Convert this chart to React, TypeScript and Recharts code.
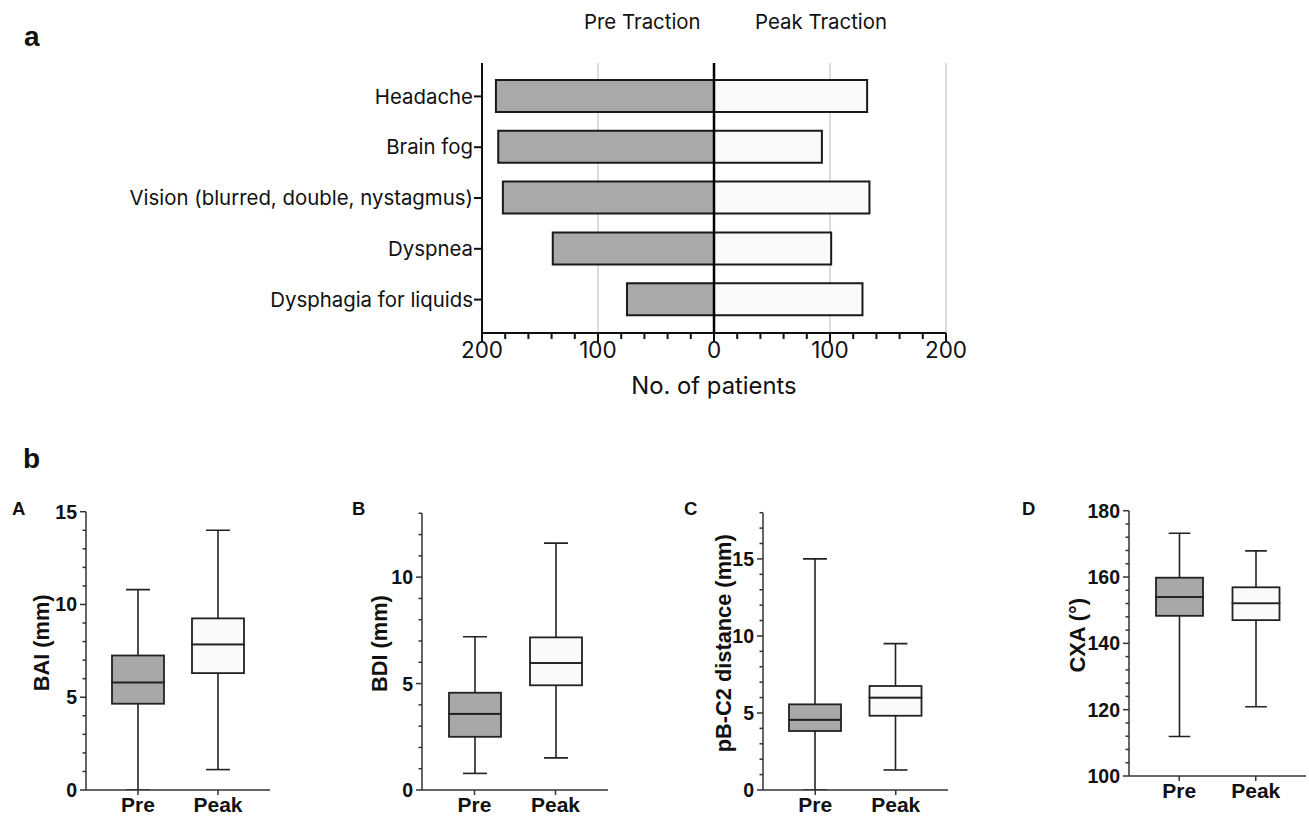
import React from "react";
import {
  BarChart,
  ComposedChart,
  Bar,
  XAxis,
  YAxis,
  CartesianGrid,
  ReferenceLine,
} from "recharts";

const SANS = 'Inter, "Liberation Sans", Arial, sans-serif';
const BOLD = '"Liberation Sans", Arial, Helvetica, sans-serif';

// panel a: symptoms
const symptoms = [
  "Headache",
  "Brain fog",
  "Vision (blurred, double, nystagmus)",
  "Dyspnea",
  "Dysphagia for liquids",
];
const preTraction = [188, 186, 182, 139, 75];
const peakTraction = [132, 93, 134, 101, 128];
const patientTicks = [
  -200, -180, -160, -140, -120, -100, -80, -60, -40, -20, 0, 20, 40, 60, 80,
  100, 120, 140, 160, 180, 200,
];
const patientMajor = [-200, -100, 0, 100, 200];
const patientGrid = [-200, -100, 100, 200];

// panel b: box plots, each [min, q1, median, q3, max]
const groups = ["Pre", "Peak"];
const baiPre = [0, 4.65, 5.8, 7.25, 10.8];
const baiPeak = [1.1, 6.3, 7.85, 9.25, 14.0];
const bdiPre = [0.78, 2.5, 3.58, 4.57, 7.2];
const bdiPeak = [1.51, 4.92, 5.97, 7.17, 11.6];
const pbc2Pre = [0, 3.83, 4.56, 5.56, 15.0];
const pbc2Peak = [1.3, 4.82, 6.0, 6.75, 9.5];
const cxaPre = [111.9, 148.3, 154, 159.8, 173.2];
const cxaPeak = [120.9, 147, 152.1, 156.9, 167.9];

const boxFills = ["#a8a8a8", "#fafafa"];

const PatientTick = (props: any) => {
  const { x, y, payload } = props;
  const major = patientMajor.includes(payload.value);
  return (
    <g>
      <line x1={x} x2={x} y1={y} y2={y + (major ? 9 : 6)} stroke="#111" strokeWidth={2} />
      {major && (
        <text x={x} y={y + 25} textAnchor="middle" fontSize={22.5} fill="#111" fontFamily={SANS}>
          {Math.abs(payload.value)}
        </text>
      )}
    </g>
  );
};

function SymptomChart() {
  const data = symptoms.map((s, i) => ({
    symptom: s,
    pre: -preTraction[i],
    peak: peakTraction[i],
  }));
  return (
    <BarChart
      width={1309}
      height={420}
      data={data}
      layout="vertical"
      stackOffset="sign"
      barSize={32}
      margin={{ top: 63, right: 363, left: 170, bottom: 23 }}
    >
      <CartesianGrid horizontal={false} verticalValues={patientGrid} stroke="#d0d0d0" strokeWidth={1.5} />
      <XAxis
        type="number"
        domain={[-200, 200]}
        ticks={patientTicks}
        interval={0}
        allowDataOverflow
        tick={<PatientTick />}
        tickLine={false}
        tickSize={0}
        tickMargin={0}
        height={64}
        axisLine={{ stroke: "#111", strokeWidth: 2 }}
        label={{
          value: "No. of patients",
          position: "insideBottom",
          offset: 3,
          fontSize: 23.8,
          fill: "#111",
          fontFamily: SANS,
        }}
      />
      <YAxis
        type="category"
        dataKey="symptom"
        width={312}
        interval={0}
        padding={{ top: 8, bottom: 8 }}
        tick={{ fontSize: 20.4, fill: "#111", fontFamily: SANS }}
        tickSize={8}
        tickMargin={1}
        tickLine={{ stroke: "#111", strokeWidth: 2 }}
        axisLine={{ stroke: "#111", strokeWidth: 2 }}
      />
      <Bar dataKey="pre" stackId="s" fill="#a9a9a9" stroke="#1a1a1a" strokeWidth={2} isAnimationActive={false} />
      <Bar dataKey="peak" stackId="s" fill="#fafafa" stroke="#1a1a1a" strokeWidth={2} isAnimationActive={false} />
      <ReferenceLine x={0} stroke="#000" strokeWidth={2.5} />
    </BarChart>
  );
}

const BoxSegment = (props: any) => {
  const { x, y, width, height, index } = props;
  return (
    <rect x={x} y={y} width={width} height={height} fill={boxFills[index]} stroke="#222" strokeWidth={1.8} />
  );
};

const makeWhisker = (capAtTop: boolean) => (props: any) => {
  const { x, y, width, height } = props;
  const cx = x + width / 2;
  const capY = capAtTop ? y : y + height;
  const half = width * 0.23;
  return (
    <g stroke="#222" strokeWidth={1.6}>
      <line x1={cx} x2={cx} y1={y} y2={y + height} />
      <line x1={cx - half} x2={cx + half} y1={capY} y2={capY} />
    </g>
  );
};
const LowWhisker = makeWhisker(false);
const HighWhisker = makeWhisker(true);

const YLabel = (props: any) => {
  const { viewBox, value, dx } = props;
  const tx = viewBox.x + dx;
  const ty = viewBox.y + viewBox.height / 2 - 8;
  return (
    <text
      x={tx}
      y={ty}
      transform={`rotate(-90 ${tx} ${ty})`}
      textAnchor="middle"
      dominantBaseline="central"
      fontSize={21.8}
      fontWeight="bold"
      fill="#111"
      fontFamily={BOLD}
    >
      {value}
    </text>
  );
};

type PanelProps = {
  left: number;
  width: number;
  marginTop: number;
  marginBottom: number;
  label: string;
  labelX: number;
  pre: number[];
  peak: number[];
  domain: [number, number];
  majors: number[];
  minorStep: number;
  barSize: number;
};

function BoxPanel(p: PanelProps) {
  const rows = [p.pre, p.peak].map((s, i) => {
    const [mn, q1, md, q3, mx] = s;
    return {
      group: groups[i],
      base: mn,
      lowWhisker: q1 - mn,
      lowBox: md - q1,
      highBox: q3 - md,
      highWhisker: mx - q3,
    };
  });
  const ticks: number[] = [];
  for (let v = p.domain[0]; v <= p.domain[1] + 1e-9; v += p.minorStep) ticks.push(v);
  const YTick = (props: any) => {
    const { x, y, payload } = props;
    const major = p.majors.includes(payload.value);
    return (
      <g>
        <line x1={x} x2={x - (major ? 6 : 3.5)} y1={y} y2={y} stroke="#333" strokeWidth={1.5} />
        {major && (
          <text
            x={x - 9}
            y={y}
            dy="0.36em"
            textAnchor="end"
            fontSize={19.5}
            fontWeight="bold"
            fill="#111"
            fontFamily={BOLD}
          >
            {payload.value}
          </text>
        )}
      </g>
    );
  };
  return (
    <div style={{ position: "absolute", left: p.left, top: 480 }}>
      <ComposedChart
        width={p.width}
        height={336}
        data={rows}
        barSize={p.barSize}
        margin={{ top: p.marginTop, right: 3, left: 0, bottom: p.marginBottom }}
      >
        <XAxis
          dataKey="group"
          padding={{ left: 12, right: 12 }}
          height={26}
          tickSize={5}
          tickMargin={2}
          tick={{ fontSize: 21, fontWeight: "bold", fill: "#111", fontFamily: BOLD }}
          tickLine={{ stroke: "#333", strokeWidth: 1.5 }}
          axisLine={{ stroke: "#333", strokeWidth: 1.5 }}
        />
        <YAxis
          type="number"
          width={90}
          domain={p.domain}
          allowDataOverflow
          ticks={ticks}
          interval={0}
          tick={<YTick />}
          tickLine={false}
          tickSize={0}
          tickMargin={0}
          axisLine={{ stroke: "#333", strokeWidth: 1.5 }}
          label={<YLabel value={p.label} dx={p.labelX} />}
        />
        <Bar dataKey="base" stackId="b" shape={() => <g />} isAnimationActive={false} />
        <Bar dataKey="lowWhisker" stackId="b" shape={LowWhisker} isAnimationActive={false} />
        <Bar dataKey="lowBox" stackId="b" shape={BoxSegment} isAnimationActive={false} />
        <Bar dataKey="highBox" stackId="b" shape={BoxSegment} isAnimationActive={false} />
        <Bar dataKey="highWhisker" stackId="b" shape={HighWhisker} isAnimationActive={false} />
      </ComposedChart>
    </div>
  );
}

const abs = (left: number, top: number, size: number, bold = true, font = BOLD) =>
  ({
    position: "absolute",
    left,
    top,
    fontSize: size,
    lineHeight: `${size}px`,
    fontWeight: bold ? "bold" : "normal",
    fontFamily: font,
    color: "#111",
    whiteSpace: "nowrap",
  }) as React.CSSProperties;

export default function App() {
  return (
    <div
      style={{
        position: "absolute",
        left: 0,
        top: 0,
        width: 1309,
        height: 816,
        background: "#fff",
        overflow: "hidden",
      }}
    >
      <div style={{ position: "absolute", left: 0, top: 0 }}>
        <SymptomChart />
      </div>
      <div style={abs(584, 12, 20.4, false, SANS)}>Pre Traction</div>
      <div style={abs(755, 12, 20.4, false, SANS)}>Peak Traction</div>
      <div style={abs(24, 23, 28)}>a</div>
      <div style={abs(23, 445, 28)}>b</div>
      <div style={abs(12, 500, 18.5)}>A</div>
      <div style={abs(352, 500, 18.5)}>B</div>
      <div style={abs(684, 500, 18.5)}>C</div>
      <div style={abs(1022, 500, 18.5)}>D</div>

      <BoxPanel left={-4} width={277} marginTop={31.7} marginBottom={0} label="BAI (mm)" labelX={46}
        pre={baiPre} peak={baiPeak} domain={[0, 15]} majors={[0, 5, 10, 15]} minorStep={1} barSize={52} />
      <BoxPanel left={332} width={279} marginTop={33.3} marginBottom={0} label="BDI (mm)" labelX={48}
        pre={bdiPre} peak={bdiPeak} domain={[0, 13]} majors={[0, 5, 10]} minorStep={1} barSize={52} />
      <BoxPanel left={673} width={278} marginTop={32.7} marginBottom={0} label="pB-C2 distance (mm)" labelX={51}
        pre={pbc2Pre} peak={pbc2Peak} domain={[0, 18]} majors={[0, 5, 10, 15]} minorStep={1} barSize={52} />
      <BoxPanel left={1039} width={270} marginTop={30.7} marginBottom={14} label="CXA (°)" labelX={39}
        pre={cxaPre} peak={cxaPeak} domain={[100, 180]} majors={[100, 120, 140, 160, 180]} minorStep={4} barSize={47} />
    </div>
  );
}
